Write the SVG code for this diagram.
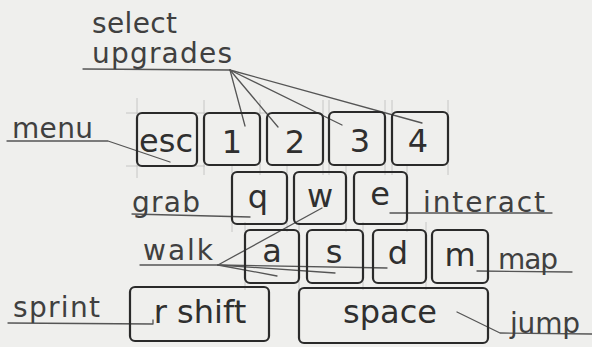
<svg xmlns="http://www.w3.org/2000/svg" width="592" height="347" viewBox="0 0 592 347">
<style>
.bg{fill:#efefed}
.key rect{fill:none;stroke:#2a2a2a;stroke-width:2.2}
.key text{font-family:"DejaVu Sans",sans-serif;font-size:32px;fill:#2f2f2f;text-anchor:middle}
.lbl text{font-family:"DejaVu Sans",sans-serif;font-size:28px;fill:#404040}
.lead{fill:none;stroke:#555;stroke-width:1.3;stroke-linecap:round;stroke-linejoin:round}
.cons{stroke:#bdbdbb;stroke-width:0.8}
</style>
<rect class="bg" x="0" y="0" width="592" height="347"/>
<g id="construction" class="cons">
<line x1="137" y1="98" x2="137" y2="178"/><line x1="126" y1="166" x2="205" y2="166"/><line x1="126" y1="113" x2="270" y2="113"/>
<line x1="204" y1="100" x2="204" y2="175"/><line x1="260" y1="100" x2="260" y2="175"/>
<line x1="323" y1="100" x2="323" y2="175"/><line x1="329" y1="100" x2="329" y2="175"/>
<line x1="385" y1="100" x2="385" y2="175"/><line x1="392" y1="100" x2="392" y2="175"/><line x1="448" y1="100" x2="448" y2="175"/>
<line x1="232" y1="165" x2="232" y2="232"/><line x1="287" y1="165" x2="287" y2="232"/><line x1="346" y1="165" x2="346" y2="232"/><line x1="407" y1="165" x2="407" y2="232"/>
<line x1="245" y1="222" x2="245" y2="290"/><line x1="299" y1="222" x2="299" y2="290"/><line x1="363" y1="222" x2="363" y2="290"/><line x1="426" y1="222" x2="426" y2="290"/>
</g>
<g id="connectors">
<polyline class="lead" points="83,69 230,70"/>
<line class="lead" x1="230" y1="70" x2="245" y2="126"/>
<line class="lead" x1="230" y1="70" x2="278" y2="127"/>
<line class="lead" x1="230" y1="70" x2="342" y2="125"/>
<line class="lead" x1="230" y1="70" x2="422" y2="123"/>
<polyline class="lead" points="7,141 108,141 170,162"/>
<polyline class="lead" points="132,214 250,217"/>
<polyline class="lead" points="390,213 552,213"/>
<polyline class="lead" points="140,265 218,265"/>
<line class="lead" x1="218" y1="265" x2="322" y2="208"/>
<line class="lead" x1="218" y1="265" x2="277" y2="276"/>
<line class="lead" x1="218" y1="265" x2="335" y2="273"/>
<line class="lead" x1="218" y1="265" x2="387" y2="268"/>
<polyline class="lead" points="477,271 572,272"/>
<polyline class="lead" points="8,323 153,324 153,320"/>
<polyline class="lead" points="457,312 500,333 592,334"/>
</g>
<g id="labels" class="lbl">
<text id="label-select" x="92" y="33" textLength="85">select</text>
<text id="label-upgrades" x="92" y="63" textLength="140">upgrades</text>
<text id="label-menu" x="12" y="138" textLength="81">menu</text>
<text id="label-grab" x="132" y="212" textLength="68">grab</text>
<text id="label-interact" x="423" y="212" textLength="122">interact</text>
<text id="label-walk" x="143" y="260" textLength="70">walk</text>
<text id="label-map" x="498" y="269" textLength="60">map</text>
<text id="label-sprint" x="13" y="317" textLength="87">sprint</text>
<text id="label-jump" x="510" y="333" textLength="70">jump</text>
</g>
<g id="key-esc" class="key"><rect x="137" y="113" width="60" height="53" rx="5"/><text x="166" y="152">esc</text></g>
<g id="key-1" class="key"><rect x="204" y="113" width="56" height="52" rx="5"/><text x="232" y="153">1</text></g>
<g id="key-2" class="key"><rect x="267" y="113" width="56" height="52" rx="5"/><text x="295" y="153">2</text></g>
<g id="key-3" class="key"><rect x="329" y="112" width="56" height="53" rx="5"/><text x="360" y="152">3</text></g>
<g id="key-4" class="key"><rect x="392" y="112" width="56" height="53" rx="5"/><text x="418" y="152">4</text></g>
<g id="key-q" class="key"><rect x="232" y="172" width="55" height="52" rx="5"/><text x="258" y="208">q</text></g>
<g id="key-w" class="key"><rect x="294" y="172" width="52" height="52" rx="5"/><text x="320" y="207">w</text></g>
<g id="key-e" class="key"><rect x="354" y="172" width="53" height="52" rx="5"/><text x="380" y="205">e</text></g>
<g id="key-a" class="key"><rect x="245" y="230" width="54" height="53" rx="5"/><text x="272" y="262">a</text></g>
<g id="key-s" class="key"><rect x="307" y="230" width="56" height="53" rx="5"/><text x="334" y="263">s</text></g>
<g id="key-d" class="key"><rect x="373" y="230" width="53" height="53" rx="5"/><text x="398" y="264">d</text></g>
<g id="key-m" class="key"><rect x="432" y="230" width="56" height="53" rx="5"/><text x="460" y="266">m</text></g>
<g id="key-rshift" class="key"><rect x="130" y="287" width="139" height="54" rx="5"/><text x="200" y="323">r shift</text></g>
<g id="key-space" class="key"><rect x="299" y="288" width="189" height="55" rx="5"/><text x="390" y="323">space</text></g>
</svg>
